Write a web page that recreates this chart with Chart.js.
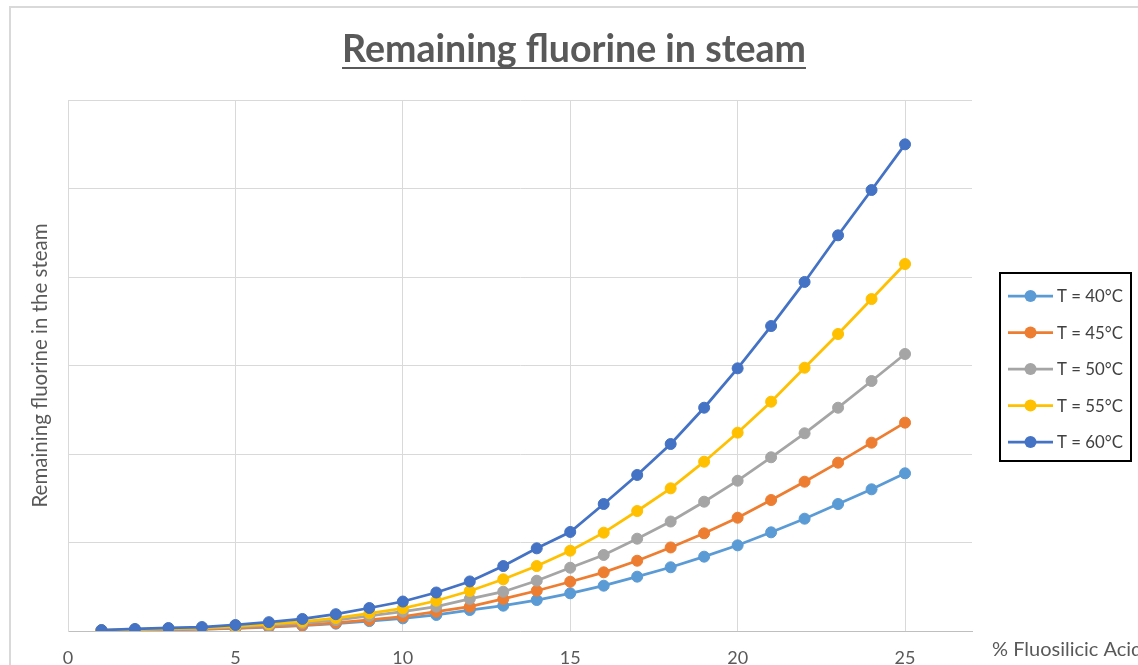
<!DOCTYPE html>
<html>
<head>
<meta charset="utf-8">
<script src="https://cdn.jsdelivr.net/npm/chart.js@4.4.0/dist/chart.umd.min.js"></script>
<style>
  html, body { margin: 0; padding: 0; background: #ffffff; overflow: hidden; }
  #wrap { width: 1138px; height: 665px; position: relative; }
</style>
</head>
<body>
<div id="wrap"><canvas id="c" width="1138" height="665"></canvas></div>
<script>
// % fluosilicic acid in the feed
const acidPercent = [1, 2, 3, 4, 5, 6, 7, 8, 9, 10, 11, 12, 13, 14, 15, 16, 17, 18, 19, 20, 21, 22, 23, 24, 25];

// Remaining fluorine in the steam, one series per temperature
const t40 = [0.005, 0.010, 0.015, 0.020, 0.030, 0.044, 0.060, 0.083, 0.112, 0.143, 0.181, 0.237, 0.286, 0.350, 0.426, 0.512, 0.614, 0.720, 0.840, 0.968, 1.115, 1.269, 1.435, 1.601, 1.782];
const t45 = [0.005, 0.011, 0.017, 0.022, 0.033, 0.049, 0.066, 0.092, 0.125, 0.162, 0.218, 0.275, 0.362, 0.455, 0.557, 0.663, 0.794, 0.944, 1.104, 1.280, 1.480, 1.687, 1.902, 2.128, 2.354];
const t50 = [0.007, 0.015, 0.022, 0.029, 0.044, 0.065, 0.088, 0.124, 0.170, 0.218, 0.275, 0.362, 0.444, 0.568, 0.715, 0.859, 1.043, 1.237, 1.461, 1.698, 1.963, 2.234, 2.523, 2.825, 3.130];
const t55 = [0.008, 0.017, 0.026, 0.035, 0.052, 0.077, 0.105, 0.146, 0.200, 0.256, 0.342, 0.452, 0.584, 0.734, 0.907, 1.111, 1.356, 1.612, 1.913, 2.241, 2.591, 2.975, 3.356, 3.751, 4.147];
const t60 = [0.011, 0.023, 0.034, 0.045, 0.068, 0.100, 0.136, 0.190, 0.260, 0.333, 0.435, 0.560, 0.734, 0.934, 1.119, 1.435, 1.763, 2.113, 2.523, 2.968, 3.446, 3.944, 4.471, 4.983, 5.499];

const seriesLabels = ['T = 40°C', 'T = 45°C', 'T = 50°C', 'T = 55°C', 'T = 60°C'];
const seriesColors = ['#5B9BD5', '#ED7D31', '#A5A5A5', '#FFC000', '#4472C4'];
const seriesValues = [t40, t45, t50, t55, t60];

const xTicks = [0, 5, 10, 15, 20, 25];

const FONT = 'Lato, "Open Sans", "Liberation Sans", sans-serif';

const datasets = seriesValues.map((vals, i) => ({
  label: seriesLabels[i],
  data: acidPercent.map((x, k) => ({ x: x, y: vals[k] })),
  borderColor: seriesColors[i],
  backgroundColor: seriesColors[i],
  pointBackgroundColor: seriesColors[i],
  pointBorderColor: seriesColors[i],
  borderWidth: 2.75,
  pointRadius: 5.5,
  pointBorderWidth: 1,
  tension: 0,
  fill: false,
  // hotter series sit on top
  order: seriesValues.length - i
}));

// frame, title, axis caption and boxed legend
const decor = {
  id: 'decor',
  beforeDraw(chart) {
    const ctx = chart.ctx;
    ctx.save();
    ctx.fillStyle = '#ffffff';
    ctx.fillRect(0, 0, chart.width, chart.height);
    ctx.strokeStyle = '#d9d9d9';
    ctx.lineWidth = 2;
    ctx.beginPath();
    ctx.moveTo(10, chart.height + 4);
    ctx.lineTo(10, 7);
    ctx.lineTo(chart.width + 4, 7);
    ctx.stroke();
    ctx.restore();
  },
  afterDraw(chart) {
    const ctx = chart.ctx;
    ctx.save();

    // chart title, underlined
    const title = 'Remaining fluorine in steam';
    ctx.font = 'bold 32px ' + FONT;
    const w32 = ctx.measureText(title).width;
    const size = 32 * 464 / w32;
    ctx.font = 'bold ' + size.toFixed(2) + 'px ' + FONT;
    const tw = ctx.measureText(title).width;
    const cx = 574;
    ctx.fillStyle = '#595959';
    ctx.textAlign = 'left';
    ctx.textBaseline = 'alphabetic';
    ctx.fillText(title, cx - tw / 2, 62);
    ctx.fillRect(cx - tw / 2, 67, tw, 2);

    // x-axis caption
    ctx.font = '20px ' + FONT;
    ctx.textBaseline = 'middle';
    ctx.fillStyle = '#595959';
    ctx.fillText('% Fluosilicic Acid', 992, 650);

    // legend
    ctx.strokeStyle = '#000000';
    ctx.lineWidth = 2;
    ctx.strokeRect(1000, 273, 131, 188);
    ctx.font = '16.8px ' + FONT;
    chart.data.datasets.forEach((ds, i) => {
      const y = 296 + i * 36.5;
      ctx.strokeStyle = ds.borderColor;
      ctx.lineWidth = 2.75;
      ctx.beginPath();
      ctx.moveTo(1008, y);
      ctx.lineTo(1053, y);
      ctx.stroke();
      ctx.fillStyle = ds.borderColor;
      ctx.beginPath();
      ctx.arc(1030.5, y, 6, 0, Math.PI * 2);
      ctx.fill();
      ctx.fillStyle = '#404040';
      ctx.fillText(ds.label, 1057, y + 1);
    });
    ctx.restore();
  }
};

new Chart(document.getElementById('c'), {
  type: 'line',
  data: { datasets: datasets },
  plugins: [decor],
  options: {
    responsive: false,
    animation: false,
    devicePixelRatio: 1,
    layout: { padding: { top: 100, right: 166, bottom: 0, left: 0 } },
    plugins: {
      legend: { display: false },
      title: { display: false },
      tooltip: { enabled: false }
    },
    scales: {
      x: {
        type: 'linear',
        min: 0,
        max: 27,
        afterBuildTicks(scale) {
          scale.ticks = xTicks.map(v => ({ value: v }));
        },
        afterFit(scale) { scale.height = 34; },
        ticks: {
          padding: 16,
          color: '#595959',
          font: { family: FONT, size: 18 },
          maxRotation: 0
        },
        grid: { color: '#d9d9d9', lineWidth: 1, drawTicks: false },
        border: { color: '#bfbfbf', width: 1 }
      },
      y: {
        type: 'linear',
        min: 0,
        max: 6,
        ticks: { display: false, stepSize: 1 },
        afterFit(scale) { scale.width = 68; },
        grid: { color: '#d9d9d9', lineWidth: 1, drawTicks: false },
        border: { color: '#d9d9d9', width: 1 },
        title: {
          display: true,
          text: 'Remaining fluorine in the steam',
          color: '#595959',
          font: { family: FONT, size: 20.5 },
          padding: { top: 28.5, bottom: 0 }
        }
      }
    }
  }
});
</script>
</body>
</html>
